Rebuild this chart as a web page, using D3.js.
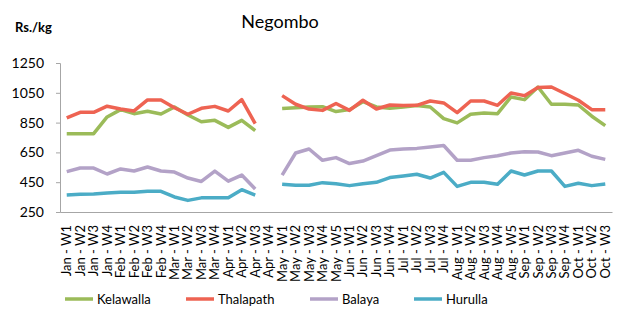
<!DOCTYPE html>
<html>
<head>
<meta charset="utf-8">
<script src="https://cdn.jsdelivr.net/npm/d3@7"></script>
<style>
    body { margin: 0; background: #fff; }
    #chart text { font-family: Lato, "Open Sans", sans-serif; fill: #000; }
</style>
</head>
<body>
<div id="chart"></div>
<script>
const weeks = [
    "Jan - W1", "Jan - W2", "Jan - W3", "Jan - W4",
    "Feb - W1", "Feb - W2", "Feb - W3", "Feb - W4",
    "Mar - W1", "Mar - W2", "Mar - W3", "Mar - W4",
    "Apr - W1", "Apr - W2", "Apr - W3", "Apr - W4",
    "May - W1", "May - W2", "May - W3", "May - W4", "May - W5",
    "Jun - W1", "Jun - W2", "Jun - W3", "Jun - W4",
    "Jul - W1", "Jul - W2", "Jul - W3", "Jul - W4",
    "Aug - W1", "Aug - W2", "Aug - W3", "Aug - W4", "Aug - W5",
    "Sep - W1", "Sep - W2", "Sep - W3", "Sep - W4",
    "Oct - W1", "Oct - W2", "Oct - W3"
];

const kelawalla = [776, 776, 776, 888, 937, 910, 926, 908, 955, 901, 856, 865, 818, 865, 796, null,
    944, 950, 955, 957, 924, 937, 990, 955, 946, 955, 964, 955, 877, 848, 906, 915, 910, 1022, 1004, 1089, 973, 973, 968, 893, 830];
const thalapath = [881, 919, 919, 960, 941, 928, 1002, 1002, 950, 906, 946, 959, 928, 1004, 843, null,
    1031, 973, 941, 932, 978, 932, 1000, 941, 968, 964, 966, 995, 982, 917, 995, 995, 966, 1049, 1031, 1085, 1089, 1045, 1000, 937, 937];
const balaya = [521, 545, 545, 505, 539, 525, 552, 525, 518, 478, 455, 525, 457, 498, 404, null,
    498, 646, 673, 597, 615, 575, 592, 628, 666, 673, 677, 686, 696, 597, 597, 615, 628, 646, 655, 653, 628, 646, 664, 624, 603];
const hurulla = [364, 369, 371, 378, 382, 382, 389, 389, 351, 328, 345, 345, 345, 400, 364, null,
    436, 429, 429, 447, 440, 427, 440, 449, 481, 492, 503, 478, 516, 422, 449, 449, 436, 525, 498, 525, 525, 422, 443, 427, 438];

const yTicks = [250, 450, 650, 850, 1050, 1250];

const series = [
    { name: "Kelawalla", values: kelawalla, color: "#9bbb59" },
    { name: "Thalapath", values: thalapath, color: "#ee6352" },
    { name: "Balaya", values: balaya, color: "#b3a2c7" },
    { name: "Hurulla", values: hurulla, color: "#4bacc6" }
];

const width = 623, height = 309;
const margin = { top: 63, right: 11, bottom: 97, left: 60 };

const svg = d3.select("#chart")
    .append("svg")
    .attr("width", width)
    .attr("height", height);

const x = d3.scaleBand()
    .domain(weeks)
    .range([margin.left, width - margin.right]);

const y = d3.scaleLinear()
    .domain([250, 1250])
    .range([height - margin.bottom, margin.top]);

// title + unit
svg.append("text")
    .attr("x", 280)
    .attr("y", 28)
    .attr("text-anchor", "middle")
    .style("font-size", "18px")
    .text("Negombo");

svg.append("text")
    .attr("x", 15)
    .attr("y", 32)
    .style("font-size", "13px")
    .style("font-weight", "bold")
    .text("Rs./kg");

// y axis
const yAxis = svg.append("g")
    .attr("transform", `translate(${margin.left},0)`)
    .call(d3.axisLeft(y).tickValues(yTicks).tickSize(4).tickPadding(12).tickFormat(d3.format("d")));
yAxis.select(".domain").attr("stroke", "#a6a6a6");
yAxis.selectAll(".tick line").attr("stroke", "#a6a6a6");
yAxis.selectAll(".tick text").style("font-size", "14px");

// x axis
const xAxis = svg.append("g")
    .attr("transform", `translate(0,${height - margin.bottom})`)
    .call(d3.axisBottom(x).tickSize(0).tickPadding(0));
xAxis.select(".domain").attr("stroke", "#a6a6a6");
xAxis.selectAll(".tick text")
    .style("font-size", "13px")
    .attr("text-anchor", "end")
    .attr("transform", "rotate(-90)")
    .attr("x", -13)
    .attr("y", 0)
    .attr("dy", "0.35em");

// lines
const line = d3.line()
    .defined(d => d.v !== null)
    .x(d => x(d.w) + x.bandwidth() / 2)
    .y(d => y(d.v));

svg.selectAll(".series")
    .data(series)
    .enter()
    .append("path")
    .attr("class", "series")
    .attr("fill", "none")
    .attr("stroke", d => d.color)
    .attr("stroke-width", 3.5)
    .attr("stroke-linejoin", "round")
    .attr("d", d => line(d.values.map((v, i) => ({ w: weeks[i], v: v }))));

// legend
const legendX = [65, 186, 310, 414];
const legend = svg.selectAll(".legend")
    .data(series)
    .enter()
    .append("g")
    .attr("class", "legend")
    .attr("transform", (d, i) => `translate(${legendX[i]},299)`);

legend.append("line")
    .attr("x1", 0)
    .attr("x2", 28)
    .attr("stroke", d => d.color)
    .attr("stroke-width", 3.5);

legend.append("text")
    .attr("x", 32)
    .attr("dy", "0.35em")
    .style("font-size", "13px")
    .text(d => d.name);
</script>
</body>
</html>
